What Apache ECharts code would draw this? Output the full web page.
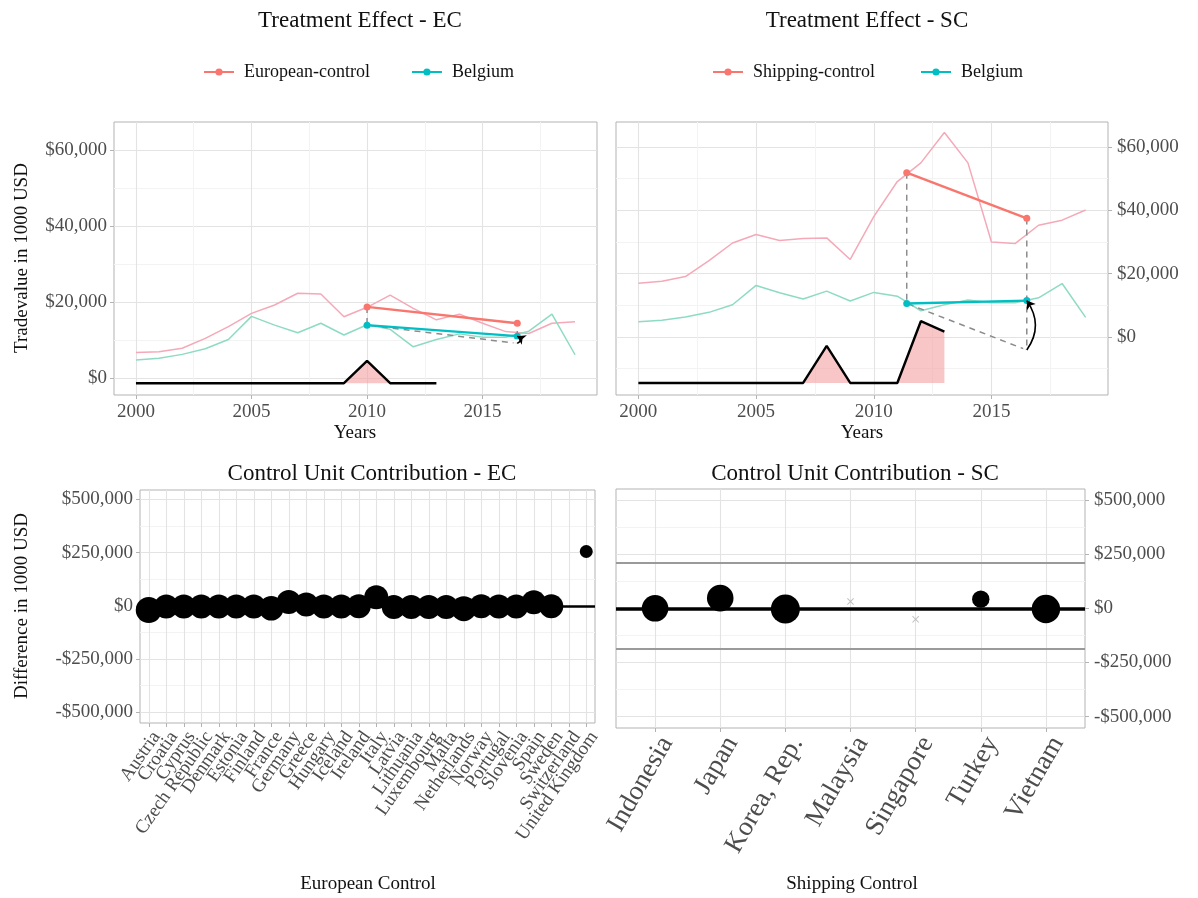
<!DOCTYPE html>
<html>
<head>
<meta charset="utf-8">
<script src="https://cdn.jsdelivr.net/npm/echarts@6/dist/echarts.min.js"></script>
<style>
  html, body { margin: 0; padding: 0; background: #ffffff; }
  #chart { width: 1198px; height: 898px; }
</style>
</head>
<body>
<div id="chart"></div>
<script>
// ---- Yearly trade values (1000 USD) ----
const years = [2000, 2001, 2002, 2003, 2004, 2005, 2006, 2007, 2008, 2009,
               2010, 2011, 2012, 2013, 2014, 2015, 2016, 2017, 2018, 2019];
const belgium   = [4800, 5300, 6300, 7800, 10200, 16300, 14000, 12000, 14500, 11400,
                   14100, 12900, 8300, 10200, 11700, 10800, 10800, 12400, 16900, 6200];
const ecControl = [6800, 7000, 7900, 10500, 13600, 17100, 19300, 22400, 22200, 16200,
                   18700, 21900, 18400, 15400, 16900, 14500, 12300, 11800, 14500, 14900];
const scControl = [17000, 17600, 19100, 24100, 29700, 32400, 30500, 31100, 31300, 24500,
                   38000, 49100, 55000, 64600, 55000, 30000, 29500, 35300, 36900, 40100];

// ---- Pre / post treatment means ----
const ecTreatYears = [2010, 2016.5];
const ecControlMean = [18800, 14500];
const ecBelgiumMean = [14000, 11100];
const ecCounterfactual = 9200;

const scTreatYears = [2011.4, 2016.5];
const scControlMean = [51900, 37500];
const scBelgiumMean = [10600, 11500];
const scCounterfactual = -4100;

// ---- Treatment timing profile drawn under the series ----
const timingYears = [2000, 2001, 2002, 2003, 2004, 2005, 2006, 2007, 2008, 2009, 2010, 2011, 2012, 2013];
const ecTimingBase = -1300;
const ecTiming = [-1300, -1300, -1300, -1300, -1300, -1300, -1300, -1300, -1300, -1300, 4600, -1300, -1300, -1300];
const scTimingBase = -14500;
const scTiming = [-14500, -14500, -14500, -14500, -14500, -14500, -14500, -14500, -2800, -14500, -14500, -14500, 5000, 1700];

// ---- Control unit contributions (1000 USD) and donor weights ----
const ecCountries = ['Austria', 'Croatia', 'Cyprus', 'Czech Republic', 'Denmark', 'Estonia', 'Finland',
  'France', 'Germany', 'Greece', 'Hungary', 'Iceland', 'Ireland', 'Italy', 'Latvia', 'Lithuania',
  'Luxembourg', 'Malta', 'Netherlands', 'Norway', 'Portugal', 'Slovenia', 'Spain', 'Sweden',
  'Switzerland', 'United Kingdom'];
const ecContribution = [-20000, -4000, -4000, -4000, -4000, -4000, -4000, -12000, 18000, 6000,
  -4000, -4000, -2000, 40000, -6000, -6000, -6000, -6000, -14000, -2000, -3000, -4000, 16000, -2000,
  null, 255000];
const ecWeight = [0.048, 0.041, 0.041, 0.041, 0.041, 0.041, 0.041, 0.043, 0.041, 0.041,
  0.041, 0.041, 0.041, 0.041, 0.041, 0.041, 0.041, 0.041, 0.044, 0.041, 0.041, 0.041, 0.041, 0.041,
  0, 0.012];

const scCountries = ['Indonesia', 'Japan', 'Korea, Rep.', 'Malaysia', 'Singapore', 'Turkey', 'Vietnam'];
const scContribution = [0, 47000, -3000, 31000, -51000, 42000, -3000];
const scWeight = [0.21, 0.21, 0.25, 0, 0, 0.09, 0.24];
const scBand = [-185000, 212000];

// ---- Tick values ----
const yearTicks = [2000, 2005, 2010, 2015];
const yearMinor = [2002.5, 2007.5, 2012.5, 2017.5];
const tradeTicks = [0, 20000, 40000, 60000];
const ecTradeMinor = [10000, 30000, 50000];
const scTradeMinor = [-10000, 10000, 30000, 50000];
const diffTicks = [-500000, -250000, 0, 250000, 500000];
const diffMinor = [-375000, -125000, 125000, 375000];

// ---- Styling ----
const SERIF = 'Liberation Serif';
const RED = '#F8766D', TEAL = '#00BFC4';
const FADED_RED = '#f5a9b8', FADED_TEAL = '#8edbc4';
const GRID_MAJOR = '#e3e3e3', GRID_MINOR = '#f3f3f3', BORDER = '#b3b3b3';
const TICK_TXT = '#4d4d4d';

const money = v => (v < 0 ? '-$' : '$') + Math.abs(v).toLocaleString('en-US');
const pairs = (xs, ys) => xs.map((x, i) => [x, ys[i]]);

function majorAxis(extra) {
  return Object.assign({
    type: 'value',
    axisLine: { show: false, onZero: false },
    axisTick: { show: true, length: 4, lineStyle: { color: BORDER } },
    splitLine: { show: true, lineStyle: { color: GRID_MAJOR, width: 1.1 } },
    axisLabel: { color: TICK_TXT, fontFamily: SERIF, fontSize: 19 }
  }, extra);
}
function minorAxis(gridIndex, min, max, values, position) {
  return {
    type: 'value', gridIndex, min, max, position,
    axisLine: { show: false, onZero: false },
    axisTick: { show: false, customValues: values },
    axisLabel: { show: false, customValues: values },
    splitLine: { show: true, lineStyle: { color: GRID_MINOR, width: 1 } }
  };
}

const X_TOP = { min: 1999.05, max: 2019.95 };
const Y_EC = { min: -4400, max: 67500 };
const Y_SC = { min: -18300, max: 67900 };
const Y_ECD = { min: -551000, max: 544000 };
const Y_SCD = { min: -552000, max: 550000 };

function yearAxis(gridIndex) {
  return majorAxis({
    gridIndex, min: X_TOP.min, max: X_TOP.max,
    axisTick: { show: true, length: 4, lineStyle: { color: BORDER }, customValues: yearTicks },
    axisLabel: { color: TICK_TXT, fontFamily: SERIF, fontSize: 19, margin: 8,
      customValues: yearTicks, formatter: v => String(Math.round(v)) }
  });
}
function moneyAxis(gridIndex, ext, ticks, position, margin) {
  return majorAxis({
    gridIndex, min: ext.min, max: ext.max, position,
    axisTick: { show: true, length: 4, lineStyle: { color: BORDER }, customValues: ticks },
    axisLabel: { color: TICK_TXT, fontFamily: SERIF, fontSize: 19, margin,
      customValues: ticks, formatter: money }
  });
}
// Numeric axis carrying the country positions (ticks + vertical grid lines)
function countryAxis(gridIndex, names, pad, labelOpts) {
  const idx = names.map((_, i) => i);
  return majorAxis({
    gridIndex, min: -pad, max: names.length - 1 + pad, position: 'bottom',
    axisTick: { show: true, length: 4, lineStyle: { color: BORDER }, customValues: idx },
    axisLabel: labelOpts
      ? Object.assign({ customValues: idx, formatter: v => names[Math.round(v)] || '' }, labelOpts)
      : { show: false, customValues: idx }
  });
}
// Category axis used only to print every country name
function countryLabelAxis(gridIndex, names, labelOpts) {
  return {
    type: 'category', gridIndex, data: names, position: 'bottom', boundaryGap: true,
    axisLine: { show: false, onZero: false }, axisTick: { show: false }, splitLine: { show: false },
    axisLabel: Object.assign({ interval: 0 }, labelOpts)
  };
}

// Treatment-effect panel series
function effectSeries(g, control, controlName, treat, ctlMean, belMean, cf, timing, timingBase, arrowCurve) {
  const ax = { xAxisIndex: g, yAxisIndex: g };
  return [
    Object.assign({ type: 'line', name: controlName + ' trend', data: pairs(years, control),
      symbol: 'none', silent: true, z: 2,
      lineStyle: { color: FADED_RED, width: 1.5 } }, ax),
    Object.assign({ type: 'line', name: 'Belgium trend', data: pairs(years, belgium),
      symbol: 'none', silent: true, z: 2,
      lineStyle: { color: FADED_TEAL, width: 1.5 } }, ax),
    Object.assign({ type: 'line', name: 'timing', data: pairs(timingYears, timing),
      symbol: 'none', silent: true, z: 3,
      lineStyle: { color: '#000', width: 2.4 },
      areaStyle: { color: 'rgba(244,160,160,0.6)', origin: timingBase, opacity: 1 } }, ax),
    Object.assign({ type: 'line', name: 'counterfactual',
      data: [[treat[0], ctlMean[0]], [treat[0], belMean[0]], [treat[1], cf], [treat[1], ctlMean[1]]],
      symbol: 'none', silent: true, z: 4,
      lineStyle: { color: '#8c8c8c', width: 1.5, type: [6, 5] } }, ax),
    Object.assign({ type: 'line', name: controlName, data: pairs(treat, ctlMean),
      symbol: 'circle', symbolSize: 7, z: 5,
      itemStyle: { color: RED }, lineStyle: { color: RED, width: 2.4 } }, ax),
    Object.assign({ type: 'line', name: 'Belgium', data: pairs(treat, belMean),
      symbol: 'circle', symbolSize: 7, z: 5,
      itemStyle: { color: TEAL }, lineStyle: { color: TEAL, width: 2.4 } }, ax),
    Object.assign({ type: 'scatter', name: 'cf point', data: [[treat[1], cf]],
      symbol: 'emptyCircle', symbolSize: 6, silent: true, z: 5,
      itemStyle: { color: '#fff', borderColor: '#f39aa8', borderWidth: 1.4 } }, ax),
    Object.assign({ type: 'lines', coordinateSystem: 'cartesian2d', silent: true, z: 6,
      data: [{ coords: [[treat[1], cf], [treat[1], belMean[1]]] }],
      symbol: ['none', 'arrow'], symbolSize: 8,
      lineStyle: { color: '#000', width: 1.6, curveness: arrowCurve, opacity: 1 } }, ax)
  ];
}

// Control-unit contribution panel series
function contributionSeries(g, contrib, weight, maxD, lines) {
  const maxW = Math.max(...weight);
  const pts = [], zero = [];
  contrib.forEach((v, i) => {
    if (v === null) return;
    if (weight[i] > 0) pts.push([i, v, weight[i]]); else zero.push([i, v]);
  });
  return [
    { type: 'scatter', xAxisIndex: g, yAxisIndex: g, data: pts, z: 4,
      symbolSize: d => maxD * Math.sqrt(d[2] / maxW),
      itemStyle: { color: '#000', opacity: 1 },
      markLine: { silent: true, symbol: 'none', label: { show: false }, animation: false,
        data: lines } },
    { type: 'scatter', xAxisIndex: g, yAxisIndex: g, data: zero, z: 4, silent: true,
      symbol: 'path://M1,0L5,4L9,0L10,1L6,5L10,9L9,10L5,6L1,10L0,9L4,5L0,1Z',
      symbolSize: 7, itemStyle: { color: '#b0b0b0' } }
  ];
}

const titleStyle = { fontFamily: SERIF, fontSize: 23, fontWeight: 'normal', color: '#111' };
const axisTitle = (text, x, y, rot) => ({
  type: 'text', x, y, rotation: rot || 0, silent: true,
  style: { text, fill: '#111', font: '19px "Liberation Serif"', align: 'center', verticalAlign: 'middle' }
});

const ecLabelStyle = { color: TICK_TXT, fontFamily: SERIF, fontSize: 19, rotate: 55, margin: 5, verticalAlign: 'top' };
const scLabelStyle = { color: TICK_TXT, fontFamily: SERIF, fontSize: 27, rotate: 60, margin: 4, verticalAlign: 'top',
  showMinLabel: true, showMaxLabel: true };

const option = {
  animation: false,
  backgroundColor: '#ffffff',
  title: [
    { text: 'Treatment Effect - EC', left: 355, top: 4, textAlign: 'center', textStyle: titleStyle },
    { text: 'Treatment Effect - SC', left: 862, top: 4, textAlign: 'center', textStyle: titleStyle },
    { text: 'Control Unit Contribution - EC', left: 367, top: 457, textAlign: 'center', textStyle: titleStyle },
    { text: 'Control Unit Contribution - SC', left: 850, top: 457, textAlign: 'center', textStyle: titleStyle }
  ],
  legend: [
    { data: ['European-control', 'Belgium'], left: 198, top: 58, itemWidth: 30, itemHeight: 9, itemGap: 41,
      textStyle: { fontFamily: SERIF, fontSize: 18, color: '#111', padding: [0, 0, 0, 5] } },
    { data: ['Shipping-control', 'Belgium'], left: 707, top: 58, itemWidth: 30, itemHeight: 9, itemGap: 45,
      textStyle: { fontFamily: SERIF, fontSize: 18, color: '#111', padding: [0, 0, 0, 5] } }
  ],
  grid: [
    { left: 114, top: 122, width: 483, height: 273, show: true, borderColor: BORDER, borderWidth: 1 },
    { left: 616, top: 122, width: 492, height: 273, show: true, borderColor: BORDER, borderWidth: 1 },
    { left: 140, top: 490, width: 455, height: 233, show: true, borderColor: BORDER, borderWidth: 1 },
    { left: 616, top: 489, width: 469, height: 239, show: true, borderColor: BORDER, borderWidth: 1 }
  ],
  xAxis: [
    yearAxis(0),
    yearAxis(1),
    countryAxis(2, ecCountries, 0.5, null),
    countryAxis(3, scCountries, 0.6, scLabelStyle),
    minorAxis(0, X_TOP.min, X_TOP.max, yearMinor, 'top'),
    minorAxis(1, X_TOP.min, X_TOP.max, yearMinor, 'top'),
    countryLabelAxis(2, ecCountries, ecLabelStyle)
  ],
  yAxis: [
    moneyAxis(0, Y_EC, tradeTicks, 'left', 7),
    moneyAxis(1, Y_SC, tradeTicks, 'right', 9),
    moneyAxis(2, Y_ECD, diffTicks, 'left', 7),
    moneyAxis(3, Y_SCD, diffTicks, 'right', 9),
    minorAxis(0, Y_EC.min, Y_EC.max, ecTradeMinor, 'right'),
    minorAxis(1, Y_SC.min, Y_SC.max, scTradeMinor, 'left'),
    minorAxis(2, Y_ECD.min, Y_ECD.max, diffMinor, 'right'),
    minorAxis(3, Y_SCD.min, Y_SCD.max, diffMinor, 'left')
  ],
  series: [].concat(
    effectSeries(0, ecControl, 'European-control', ecTreatYears, ecControlMean, ecBelgiumMean,
      ecCounterfactual, ecTiming, ecTimingBase, -0.9),
    effectSeries(1, scControl, 'Shipping-control', scTreatYears, scControlMean, scBelgiumMean,
      scCounterfactual, scTiming, scTimingBase, -0.35),
    contributionSeries(2, ecContribution, ecWeight, 26,
      [{ yAxis: 0, lineStyle: { color: '#000', width: 2.6, type: 'solid' } }]),
    contributionSeries(3, scContribution, scWeight, 29, [
      { yAxis: 0, lineStyle: { color: '#000', width: 3.5, type: 'solid' } },
      { yAxis: scBand[0], lineStyle: { color: '#9a9a9a', width: 2, type: 'solid' } },
      { yAxis: scBand[1], lineStyle: { color: '#9a9a9a', width: 2, type: 'solid' } }
    ])
  ),
  graphic: [
    axisTitle('Tradevalue in 1000 USD', 22, 258, Math.PI / 2),
    axisTitle('Years', 355, 433),
    axisTitle('Years', 862, 433),
    axisTitle('Difference in 1000 USD', 22, 606, Math.PI / 2),
    axisTitle('European Control', 368, 884),
    axisTitle('Shipping Control', 852, 884)
  ]
};

const chart = echarts.init(document.getElementById('chart'), null, { renderer: 'canvas' });
chart.setOption(option);
</script>
</body>
</html>
